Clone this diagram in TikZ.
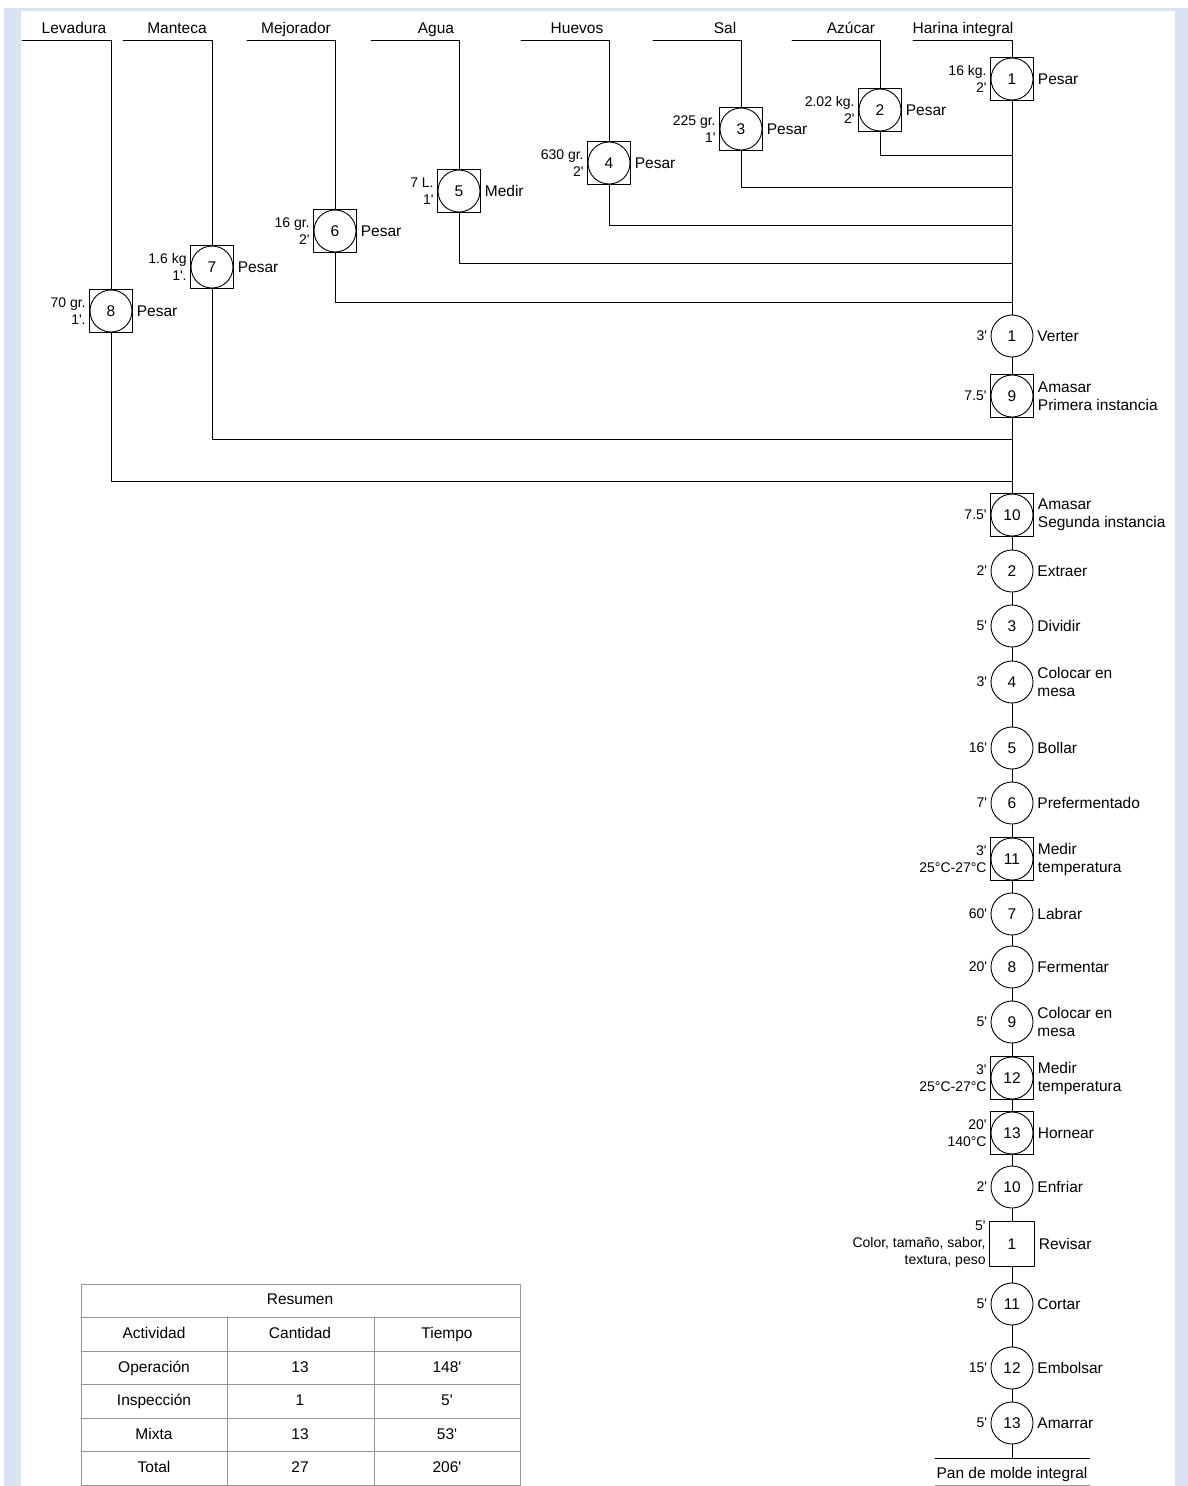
\documentclass[tikz,border=0pt]{standalone}
\usepackage{fontspec}
\setmainfont{Liberation Sans}[Ligatures=TeXOff]
\usetikzlibrary{positioning,calc}

\definecolor{marco}{RGB}{218,227,242}
\definecolor{rejilla}{RGB}{150,150,150}

\tikzset{
  oper/.style={draw, circle, minimum size=42pt, inner sep=0pt, font=\fontsize{15.5}{18}\selectfont},
  mixta/.style={draw, rectangle, minimum size=43pt, inner sep=0pt, font=\fontsize{15.5}{18}\selectfont,
    path picture={\draw (path picture bounding box.center) circle (21pt);}},
  insp/.style={draw, rectangle, minimum size=45pt, inner sep=0pt, font=\fontsize{15.5}{18}\selectfont},
  accion/.style={font=\fontsize{15.5}{18}\selectfont, align=left, inner sep=3.5pt},
  dato/.style={font=\fontsize{14}{17}\selectfont, align=right, inner sep=3pt},
  insumo/.style={font=\fontsize{15.5}{18}\selectfont, anchor=base, inner sep=0pt},
  celda/.style={font=\fontsize{15.5}{18}\selectfont, inner sep=0pt, text height=11pt, text depth=3pt},
}

\begin{document}
\begin{tikzpicture}[x=1pt, y=-1pt, line width=0.9pt, line cap=round, line join=round]

\useasboundingbox (0,0) rectangle (1188,1486);

% --- page frame ---
\fill[marco] (4,8) rectangle (1188,1486);
\fill[white] (21,11) rectangle (1175,1486);

\def\xC{1012}   % main column
\def\yT{40}     % feed lines

% ------------------ inputs ------------------
\node[insumo] (tLev) at (74,33)  {Levadura};
\node[insumo] (tMan) at (177,33) {Manteca};
\node[insumo] (tMej) at (296,33) {Mejorador};
\node[insumo] (tAgu) at (436,33) {Agua};
\node[insumo] (tHue) at (577,33) {Huevos};
\node[insumo] (tSal) at (725,33) {Sal};
\node[insumo] (tAzu) at (851,33) {Azúcar};
\node[insumo] (tHar) at (963,33) {Harina integral};

\coordinate (iLev) at (22,\yT);
\coordinate (iMan) at (123,\yT);
\coordinate (iMej) at (247,\yT);
\coordinate (iAgu) at (371,\yT);
\coordinate (iHue) at (521,\yT);
\coordinate (iSal) at (653,\yT);
\coordinate (iAzu) at (792,\yT);
\coordinate (iHar) at (913,\yT);

% weighing / measuring steps
\node[mixta, label={[dato]left:{16 kg.\\2'}},   label={[accion]right:Pesar}] (m1) at (\xC,79)  {1};
\node[mixta, label={[dato]left:{2.02 kg.\\2'}}, label={[accion]right:Pesar}] (m2) at (880,110) {2};
\node[mixta, label={[dato]left:{225 gr.\\1'}},  label={[accion]right:Pesar}] (m3) at (741,129) {3};
\node[mixta, label={[dato]left:{630 gr.\\2'}},  label={[accion]right:Pesar}] (m4) at (609,163) {4};
\node[mixta, label={[dato]left:{7 L.\\1'}},     label={[accion]right:Medir}] (m5) at (459,191) {5};
\node[mixta, label={[dato]left:{16 gr.\\2'}},   label={[accion]right:Pesar}] (m6) at (335,231) {6};
\node[mixta, label={[dato]left:{1.6 kg\\1'.}},  label={[accion]right:Pesar}] (m7) at (212,267) {7};
\node[mixta, label={[dato]left:{70 gr.\\1'.}},  label={[accion]right:Pesar}] (m8) at (111,311) {8};

% joins on the main column
\coordinate (j2) at (\xC,155);
\coordinate (j3) at (\xC,187);
\coordinate (j4) at (\xC,225);
\coordinate (j5) at (\xC,263);
\coordinate (j6) at (\xC,302);
\coordinate (j7) at (\xC,439);
\coordinate (j8) at (\xC,481);

\draw (iHar) -| (m1);
\draw (iAzu) -| (m2);  \draw (m2) |- (j2);
\draw (iSal) -| (m3);  \draw (m3) |- (j3);
\draw (iHue) -| (m4);  \draw (m4) |- (j4);
\draw (iAgu) -| (m5);  \draw (m5) |- (j5);
\draw (iMej) -| (m6);  \draw (m6) |- (j6);
\draw (iMan) -| (m7);  \draw (m7) |- (j7);
\draw (iLev) -| (m8);  \draw (m8) |- (j8);

% ------------------ main column ------------------
\node[oper,  label={[dato]left:3'},   label={[accion]right:Verter}] (o1) at (\xC,336) {1};
\node[mixta, label={[dato]left:7.5'}, label={[accion]right:{Amasar\\Primera instancia}}] (m9) at (\xC,396) {9};
\node[mixta, label={[dato]left:7.5'}, label={[accion]right:{Amasar\\Segunda instancia}}] (m10) at (\xC,515) {10};
\node[oper,  label={[dato]left:2'},   label={[accion]right:Extraer}] (o2) at (\xC,571) {2};
\node[oper,  label={[dato]left:5'},   label={[accion]right:Dividir}] (o3) at (\xC,626) {3};
\node[oper,  label={[dato]left:3'},   label={[accion]right:{Colocar en\\mesa}}] (o4) at (\xC,682) {4};
\node[oper,  label={[dato]left:16'},  label={[accion]right:Bollar}] (o5) at (\xC,748) {5};
\node[oper,  label={[dato]left:7'},   label={[accion]right:Prefermentado}] (o6) at (\xC,803) {6};
\node[mixta, label={[dato]left:{3'\\25°C-27°C}}, label={[accion]right:{Medir\\temperatura}}] (m11) at (\xC,859) {11};
\node[oper,  label={[dato]left:60'},  label={[accion]right:Labrar}] (o7) at (\xC,914) {7};
\node[oper,  label={[dato]left:20'},  label={[accion]right:Fermentar}] (o8) at (\xC,967) {8};
\node[oper,  label={[dato]left:5'},   label={[accion]right:{Colocar en\\mesa}}] (o9) at (\xC,1022) {9};
\node[mixta, label={[dato]left:{3'\\25°C-27°C}}, label={[accion]right:{Medir\\temperatura}}] (m12) at (\xC,1078) {12};
\node[mixta, label={[dato]left:{20'\\140°C}}, label={[accion]right:Hornear}] (m13) at (\xC,1133) {13};
\node[oper,  label={[dato]left:2'},   label={[accion]right:Enfriar}] (o10) at (\xC,1187) {10};
\node[insp,  label={[dato]left:{5'\\Color, tamaño, sabor,\\textura, peso}}, label={[accion]right:Revisar}] (i1) at (\xC,1244) {1};
\node[oper,  label={[dato]left:5'},   label={[accion]right:Cortar}] (o11) at (\xC,1304) {11};
\node[oper,  label={[dato]left:15'},  label={[accion]right:Embolsar}] (o12) at (\xC,1368) {12};
\node[oper,  label={[dato]left:5'},   label={[accion]right:Amarrar}] (o13) at (\xC,1423) {13};

\draw (m1) -- (o1) -- (m9) -- (m10) -- (o2) -- (o3) -- (o4) -- (o5) -- (o6) -- (m11)
  -- (o7) -- (o8) -- (o9) -- (m12) -- (m13) -- (o10) -- (i1) -- (o11) -- (o12) -- (o13);

% product
\coordinate (fin) at (\xC,1458);
\coordinate (finL) at (935,1458);
\coordinate (finR) at (1090,1458);
\draw (o13) -- (fin);
\draw (finL) -- (finR);
\node[insumo] (prod) at (\xC,1478) {Pan de molde integral};
\draw[rejilla] (935,1485) -- (1090,1485);

% ------------------ summary table ------------------
\begin{scope}[rejilla, line width=0.8pt]
  \draw (81,1284) rectangle (520,1485);
  \draw (81,1317) -- (520,1317);
  \draw (81,1351) -- (520,1351);
  \draw (81,1384) -- (520,1384);
  \draw (81,1418) -- (520,1418);
  \draw (81,1451) -- (520,1451);
  \draw (227,1317) -- (227,1485);
  \draw (374,1317) -- (374,1485);
\end{scope}

\node[celda] (cRes) at (300,1300) {Resumen};
\node[celda] (cAct) at (154,1334) {Actividad};
\node[celda] (cCan) at (300,1334) {Cantidad};
\node[celda] (cTie) at (447,1334) {Tiempo};
\node[celda] (cOp)  at (154,1368) {Operación};
\node[celda] (cOpN) at (300,1368) {13};
\node[celda] (cOpT) at (447,1368) {148'};
\node[celda] (cIn)  at (154,1401) {Inspección};
\node[celda] (cInN) at (300,1401) {1};
\node[celda] (cInT) at (447,1401) {5'};
\node[celda] (cMi)  at (154,1435) {Mixta};
\node[celda] (cMiN) at (300,1435) {13};
\node[celda] (cMiT) at (447,1435) {53'};
\node[celda] (cTo)  at (154,1468) {Total};
\node[celda] (cToN) at (300,1468) {27};
\node[celda] (cToT) at (447,1468) {206'};

\end{tikzpicture}
\end{document}
